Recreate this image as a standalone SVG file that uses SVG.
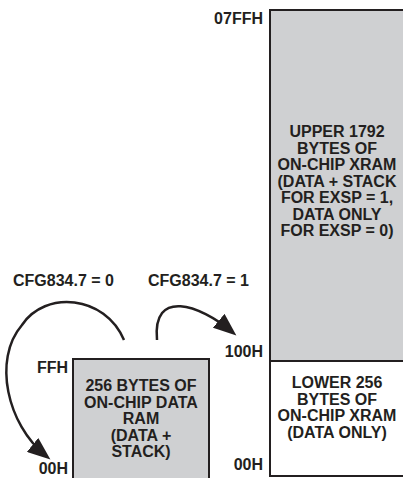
<svg xmlns="http://www.w3.org/2000/svg" width="403" height="478" viewBox="0 0 403 478">
<style>
text{font-family:"Liberation Sans",Arial,sans-serif;font-weight:bold;font-size:16px;fill:#231f20}
.c{text-anchor:middle}
.r{text-anchor:end}
.box{stroke:#231f20;stroke-width:2}
.arc{fill:none;stroke:#231f20;stroke-width:2.5}
</style>
<defs>
<marker id="ah" markerUnits="userSpaceOnUse" markerWidth="24" markerHeight="18" refX="16" refY="9" orient="auto">
<path d="M0,0 L23,9 L0,18 z" fill="#231f20"/>
</marker>
</defs>
<g id="xram-upper">
<rect class="box" x="270" y="10" width="140" height="351" fill="#cfd0d2"/>
<text class="c" x="337" y="137">UPPER 1792</text>
<text class="c" x="337" y="153.5">BYTES OF</text>
<text class="c" x="337" y="170">ON-CHIP XRAM</text>
<text class="c" x="337" y="186.5">(DATA + STACK</text>
<text class="c" x="337" y="203">FOR EXSP = 1,</text>
<text class="c" x="337" y="219.5">DATA ONLY</text>
<text class="c" x="337" y="236">FOR EXSP = 0)</text>
</g>
<g id="xram-lower">
<rect class="box" x="270" y="361" width="140" height="115" fill="#ffffff"/>
<text class="c" x="337" y="388">LOWER 256</text>
<text class="c" x="337" y="404.5">BYTES OF</text>
<text class="c" x="337" y="421">ON-CHIP XRAM</text>
<text class="c" x="337" y="437.5">(DATA ONLY)</text>
</g>
<g id="data-ram">
<rect class="box" x="73" y="359" width="136" height="130" fill="#cfd0d2"/>
<text class="c" x="141" y="391">256 BYTES OF</text>
<text class="c" x="141" y="407.5">ON-CHIP DATA</text>
<text class="c" x="141" y="424">RAM</text>
<text class="c" x="141" y="440.5">(DATA +</text>
<text class="c" x="141" y="457">STACK)</text>
</g>
<g id="labels">
<text class="r" x="263" y="24">07FFH</text>
<text class="r" x="263" y="357">100H</text>
<text class="r" x="263" y="470">00H</text>
<text class="r" x="68" y="373">FFH</text>
<text class="r" x="68" y="474">00H</text>
<text x="13" y="286">CFG834.7 = 0</text>
<text x="148" y="286">CFG834.7 = 1</text>
</g>
<g id="connectors">
<path class="arc" d="M124,340 C105,295 45,290 22,325 C-8,360 8,425 45,455" marker-end="url(#ah)"/>
<path class="arc" d="M157,340 C152,288 200,305 231,331" marker-end="url(#ah)"/>
</g>
</svg>
